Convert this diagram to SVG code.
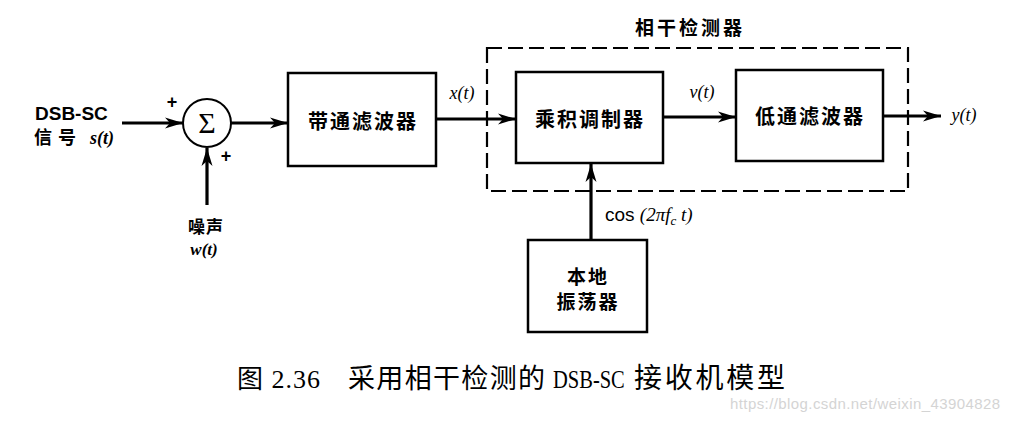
<svg xmlns="http://www.w3.org/2000/svg" width="1010" height="423" viewBox="0 0 1010 423">
<style>
.box{fill:#fff;stroke:#000;stroke-width:2.5}
.dash{fill:none;stroke:#000;stroke-width:2.2;stroke-dasharray:15 6}
.ln{stroke:#000;stroke-width:3.2;fill:none}
.cn{font-family:"Noto Sans CJK SC",sans-serif;font-weight:bold;fill:#000}
.lat{font-family:"Liberation Sans",Arial,sans-serif;font-weight:bold;fill:#000}
.it{font-family:"Liberation Serif","Times New Roman",serif;font-style:italic;fill:#000}
.cap{font-family:"Liberation Serif","Noto Sans CJK SC",serif;fill:#000}
</style>
<defs>
<marker id="ah" markerUnits="userSpaceOnUse" markerWidth="20" markerHeight="14" viewBox="0 0 20 14" refX="18" refY="7" orient="auto">
<path d="M0,1.5 L18,7 L0,12.5 L5,7 Z" fill="#000"/>
</marker>
</defs>
<rect width="1010" height="423" fill="#fff"/>

<g id="connectors">
<line class="ln" x1="122" y1="123" x2="183" y2="123" marker-end="url(#ah)"/>
<line class="ln" x1="207" y1="205" x2="207" y2="148" marker-end="url(#ah)"/>
<line class="ln" x1="231" y1="123" x2="288" y2="123" marker-end="url(#ah)"/>
<line class="ln" x1="436" y1="119" x2="516" y2="119" marker-end="url(#ah)"/>
<line class="ln" x1="663" y1="117" x2="736" y2="117" marker-end="url(#ah)"/>
<line class="ln" x1="883" y1="116" x2="941" y2="116" marker-end="url(#ah)"/>
<line class="ln" x1="591" y1="240" x2="591" y2="164" marker-end="url(#ah)"/>
</g>

<g id="input">
<text class="lat" x="35" y="120" font-size="19">DSB-SC</text>
<text class="cn" x="34" y="144" font-size="18" letter-spacing="6">信号</text>
<text class="it" x="90" y="144" font-size="18" font-weight="bold">s(t)</text>
</g>

<g id="sum">
<circle cx="207" cy="123" r="24" fill="#fff" stroke="#000" stroke-width="2"/>
<text x="207" y="133" font-size="30" text-anchor="middle" font-family="Liberation Serif,serif" fill="#000">Σ</text>
<text class="lat" x="172" y="108" font-size="18" text-anchor="middle">+</text>
<text class="lat" x="226" y="162" font-size="18" text-anchor="middle">+</text>
</g>

<g id="noise">
<text class="cn" x="206" y="233" font-size="17" text-anchor="middle" letter-spacing="1">噪声</text>
<text class="it" x="204" y="255" font-size="17" text-anchor="middle" font-weight="bold">w(t)</text>
</g>

<g id="bpf">
<rect class="box" x="288" y="73" width="148" height="93"/>
<text class="cn" x="363" y="129" font-size="20" text-anchor="middle" letter-spacing="2">带通滤波器</text>
</g>
<text class="it" x="462" y="99" font-size="18" text-anchor="middle">x(t)</text>

<g id="detector">
<rect class="dash" x="487" y="48" width="421" height="143"/>
<text class="cn" x="690" y="35" font-size="19" text-anchor="middle" letter-spacing="3">相干检测器</text>
</g>

<g id="mixer">
<rect class="box" x="516" y="72" width="147" height="91"/>
<text class="cn" x="590" y="127" font-size="20" text-anchor="middle" letter-spacing="2">乘积调制器</text>
</g>
<text class="it" x="702" y="98" font-size="18" text-anchor="middle">v(t)</text>

<g id="lpf">
<rect class="box" x="736" y="70" width="147" height="91"/>
<text class="cn" x="810" y="124" font-size="20" text-anchor="middle" letter-spacing="2">低通滤波器</text>
</g>
<text class="it" x="964" y="121" font-size="18" text-anchor="middle">y(t)</text>

<g id="oscillator">
<rect class="box" x="528" y="240" width="119" height="92"/>
<text class="cn" x="588" y="284" font-size="19" text-anchor="middle" letter-spacing="2">本地</text>
<text class="cn" x="588" y="309" font-size="19" text-anchor="middle" letter-spacing="2">振荡器</text>
</g>
<text x="605" y="221" font-size="19" fill="#000"><tspan font-family="Liberation Sans,Arial,sans-serif">cos </tspan><tspan class="it">(2πf</tspan><tspan class="it" font-size="13" dy="4">c</tspan><tspan class="it" dy="-4"> t)</tspan></text>

<g id="caption">
<text class="cap" x="237" y="388" font-size="26" textLength="83" lengthAdjust="spacing">图 2.36</text>
<text class="cap" x="348" y="388" font-size="27" textLength="197" lengthAdjust="spacing">采用相干检测的</text>
<text class="cap" transform="translate(553,388) scale(0.82,1)" font-size="25">DSB-SC</text>
<text class="cap" x="634" y="388" font-size="28" textLength="151" lengthAdjust="spacing">接收机模型</text>
</g>
<text x="730" y="409" font-size="15" font-family="Liberation Sans,Arial,sans-serif" fill="#d4d4d4" textLength="270">https://blog.csdn.net/weixin_43904828</text>
</svg>
